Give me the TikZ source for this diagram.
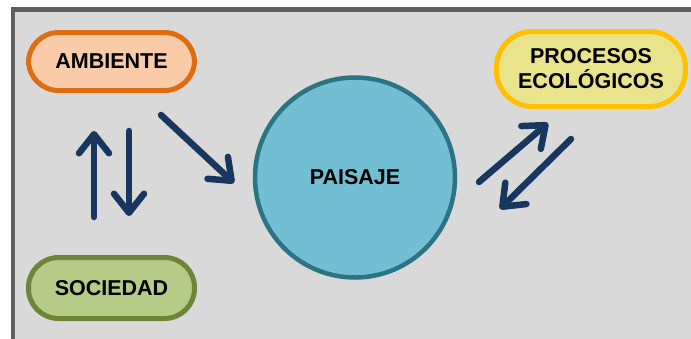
\documentclass[tikz,border=0pt]{standalone}
\usepackage{fontspec}
\setmainfont{Liberation Sans}
\usetikzlibrary{arrows.meta}
\definecolor{framegray}{HTML}{5F5F5F}
\definecolor{bggray}{HTML}{D9D9D9}
\definecolor{ambfill}{HTML}{F9CBA8}
\definecolor{ambdraw}{HTML}{E06C10}
\definecolor{procfill}{HTML}{E9E48C}
\definecolor{procdraw}{HTML}{FFC000}
\definecolor{socfill}{HTML}{B6CB88}
\definecolor{socdraw}{HTML}{6E8439}
\definecolor{paisfill}{HTML}{72BFD4}
\definecolor{paisdraw}{HTML}{2C7384}
\definecolor{arrowblue}{HTML}{17375E}
\tikzset{
  pill/.style={rounded corners=30pt, line width=5pt, font=\bfseries\fontsize{21.5}{25}\selectfont, align=center, inner sep=0pt},
  flow/.style={draw=arrowblue, line width=6.5pt, line cap=round,
    -{Straight Barb[length=19pt,width=30pt,line width=6.5pt,round]}},
}
\begin{document}
\begin{tikzpicture}[x=1pt,y=-1pt]
\useasboundingbox (0,0) rectangle (691,338);
\begin{scope}
\clip (0,0) rectangle (691,338);
\draw[draw=framegray, fill=bggray, line width=4.5pt] (13,9.5) rectangle (720,360);
\end{scope}
\node[pill, draw=ambdraw, fill=ambfill, minimum width=166pt, minimum height=58pt] (amb) at (111.5,61.5) {AMBIENTE};
\node[pill, draw=socdraw, fill=socfill, minimum width=166pt, minimum height=61pt] (soc) at (111.5,288) {SOCIEDAD};
\node[pill, draw=procdraw, fill=procfill, minimum width=189pt, minimum height=75pt, rounded corners=36pt] (proc) at (591,69) {PROCESOS\\ECOLÓGICOS};
\node[circle, draw=paisdraw, fill=paisfill, line width=4.5pt, minimum size=200pt, inner sep=0pt, font=\bfseries\fontsize{21.5}{25}\selectfont] (pais) at (355,177.5) {PAISAJE};
\coordinate (u1) at (94,217);
\coordinate (u2) at (94,131);
\coordinate (d1) at (129,131);
\coordinate (d2) at (129,216);
\coordinate (g1) at (161,115);
\coordinate (g2) at (234,183);
\coordinate (r1) at (479,182);
\coordinate (r2) at (548,123);
\coordinate (l1) at (571,139);
\coordinate (l2) at (500,209);
\draw[flow] (u1) -- (u2);
\draw[flow] (d1) -- (d2);
\draw[flow] (g1) -- (g2);
\draw[flow] (r1) -- (r2);
\draw[flow] (l1) -- (l2);
\end{tikzpicture}
\end{document}
